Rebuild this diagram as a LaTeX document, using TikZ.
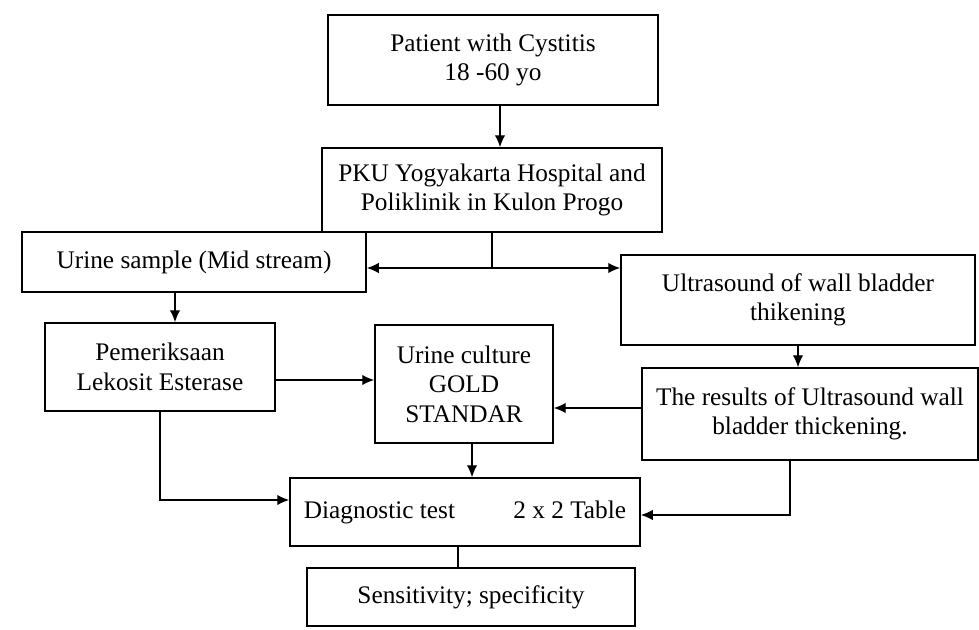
\documentclass[tikz,border=0pt]{standalone}
\usepackage{fontspec}
\setmainfont{Liberation Serif}
\usetikzlibrary{arrows.meta}

\begin{document}
\begin{tikzpicture}[
  x=0.025cm, y=-0.025cm,
  box/.style={draw, line width=1pt, align=center, inner sep=2pt,
    font=\fontsize{18}{21}\selectfont},
  arr/.style={line width=1pt, -{Latex[length=3mm, width=2.6mm]}}
]
\useasboundingbox (0,0) rectangle (979,630);

\node[box, minimum width=8.25cm, minimum height=2.25cm] (patient) at (493,60)  {Patient with Cystitis\\18 -60 yo};
\node[box, minimum width=8.5cm,  minimum height=2.1cm]  (hosp)    at (492,190) {PKU Yogyakarta Hospital and\\Poliklinik in Kulon Progo};
\node[box, minimum width=8.6cm,  minimum height=1.5cm]  (urine)   at (194,262) {Urine sample (Mid stream)};
\node[box, minimum width=8.85cm, minimum height=2.25cm] (usg)     at (798,300) {Ultrasound of wall bladder\\thikening};
\node[box, minimum width=5.75cm, minimum height=2.2cm]  (leko)    at (160,367) {Pemeriksaan\\Lekosit Esterase};
\node[box, minimum width=4.45cm, minimum height=2.95cm] (culture) at (464,384) {Urine culture\\GOLD\\STANDAR};
\node[box, minimum width=8.4cm,  minimum height=2.3cm]  (result)  at (810,414) {The results of Ultrasound wall\\bladder thickening.};
\node[box, minimum width=8.75cm, minimum height=1.7cm]  (diag)    at (465,512) {Diagnostic test\hspace{2.3em}2 x 2 Table};
\node[box, minimum width=8.2cm,  minimum height=1.45cm] (sens)    at (471,597) {Sensitivity; specificity};

\draw[arr] (patient.south -| 500,0) -- (hosp.north -| 500,0);
\draw[line width=1pt] (hosp.south) -- (492,268) coordinate (fork);
\draw[arr] (fork) -- (urine.east |- fork);
\draw[arr] (fork) -- (usg.west |- fork);
\draw[arr] (urine.south -| 175,0) -- (leko.north -| 175,0);
\draw[arr] (leko.east |- 0,380) -- (culture.west |- 0,380);
\draw[arr] (usg.south) -- (result.north -| usg.south);
\draw[arr] (result.west |- 0,408) -- (culture.east |- 0,408);
\draw[arr] (culture.south -| 472,0) -- (diag.north -| 472,0);
\draw[arr] (leko.south) |- (diag.west |- 0,500);
\draw[arr] (result.south -| 790,0) |- (diag.east |- 0,515);
\draw[line width=1pt] (diag.south -| 458,0) -- (sens.north -| 458,0);
\end{tikzpicture}
\end{document}
